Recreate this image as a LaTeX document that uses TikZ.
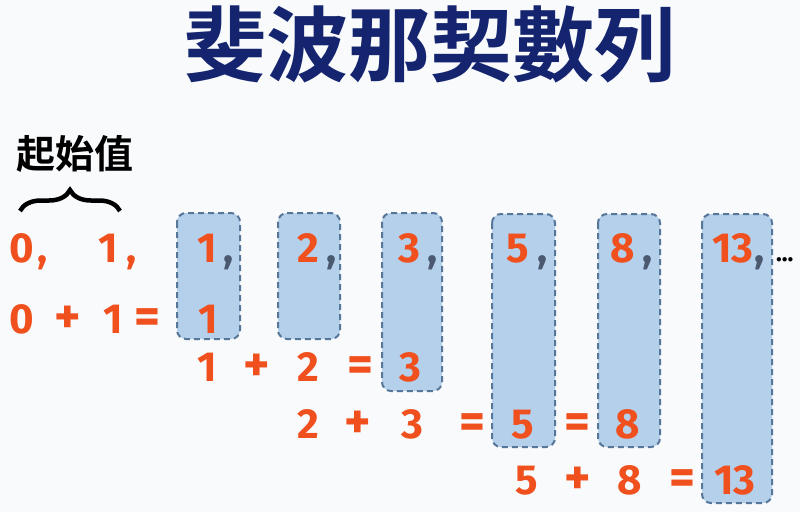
\documentclass[tikz,border=0pt]{standalone}
\usepackage{fontspec}
\setmainfont{Fira Sans}
\newfontfamily\cjk{Noto Sans CJK TC}[BoldFont={Noto Sans CJK TC Bold}]
\usetikzlibrary{decorations.pathreplacing}
\definecolor{numc}{HTML}{F0501E}
\definecolor{navy}{HTML}{14246E}
\definecolor{boxfill}{HTML}{B5D0EA}
\definecolor{boxline}{HTML}{56769A}
\definecolor{commac}{HTML}{4A5870}
\definecolor{bg}{HTML}{F8FAFC}
\begin{document}
\begin{tikzpicture}[x=1pt,y=-1pt,
  num/.style={anchor=base,inner sep=0pt,text=numc,font=\fontsize{42}{42}\selectfont\bfseries},
  op/.style={anchor=base,inner sep=0pt,text=numc,font=\fontsize{50}{50}\selectfont\bfseries},
  bcomma/.style={anchor=base,inner sep=0pt,text=commac,font=\fontsize{42}{42}\selectfont\bfseries},
  ocomma/.style={anchor=base,inner sep=0pt,text=numc,font=\fontsize{42}{42}\selectfont\bfseries},
  fibbox/.style={draw=boxline,fill=boxfill,line width=2pt,dash pattern=on 6pt off 4pt,rounded corners=9pt}]
\fill[bg] (0,0) rectangle (800,512);
\useasboundingbox (0,0) rectangle (800,512);
% title
\node[inner sep=0pt,text=navy,font=\cjk\bfseries\fontsize{82}{82}\selectfont] (title) at (430,44) {斐波那契數列};
% label and brace
\node[inner sep=0pt,font=\cjk\bfseries\fontsize{39}{39}\selectfont] (lab) at (75,154) {起始值};
\coordinate (bl) at (20,211);
\coordinate (br) at (120,211);
\draw[decorate,decoration={brace,amplitude=21pt},line width=4.5pt] (bl) -- (br);
% boxes
\draw[fibbox] (177,213) rectangle (240,339);
\draw[fibbox] (278,213) rectangle (340,339);
\draw[fibbox] (382,213) rectangle (442,391);
\draw[fibbox] (492,214) rectangle (555,447);
\draw[fibbox] (598,214) rectangle (660,447);
\draw[fibbox] (702,214) rectangle (772,503);
% row 1
\node[num] (a0) at (22,262) {0};
\node[ocomma] (c0) at (43,262) {,};
\node[num] (a1) at (108,262) {1};
\node[ocomma] (c1) at (132,262) {,};
\node[num] (a2) at (207,262) {1};
\node[bcomma] (c2) at (229,262) {,};
\node[num] (a3) at (308,262) {2};
\node[bcomma] (c3) at (332,262) {,};
\node[num] (a4) at (409,262) {3};
\node[bcomma] (c4) at (433,262) {,};
\node[num] (a5) at (518,262) {5};
\node[bcomma] (c5) at (543,262) {,};
\node[num] (a6) at (623,262) {8};
\node[bcomma] (c6) at (648,262) {,};
\node[num] (a7) at (733,262) {13};
\node[bcomma] (c7) at (760,262) {,};
\node[anchor=base west,inner sep=0pt,font=\fontsize{24}{24}\selectfont\bfseries] (dots) at (776,261) {...};
% row 2
\node[num] (r2a) at (22,333) {0};
\node[op] (r2p) at (68,333) {+};
\node[num] (r2b) at (113,333) {1};
\node[op] (r2e) at (147,333) {=};
\node[num] (r2c) at (208,333) {1};
% row 3
\node[num] (r3a) at (207,381) {1};
\node[op] (r3p) at (257,381) {+};
\node[num] (r3b) at (308,381) {2};
\node[op] (r3e) at (360,381) {=};
\node[num] (r3c) at (410,381) {3};
% row 4
\node[num] (r4a) at (308,438) {2};
\node[op] (r4p) at (358,438) {+};
\node[num] (r4b) at (412,438) {3};
\node[op] (r4e) at (472,438) {=};
\node[num] (r4c) at (523,438) {5};
\node[op] (r4f) at (577,438) {=};
\node[num] (r4d) at (628,438) {8};
% row 5
\node[num] (r5a) at (527,494) {5};
\node[op] (r5p) at (578,494) {+};
\node[num] (r5b) at (630,494) {8};
\node[op] (r5e) at (682,494) {=};
\node[num] (r5c) at (735,494) {13};
\end{tikzpicture}
\end{document}
